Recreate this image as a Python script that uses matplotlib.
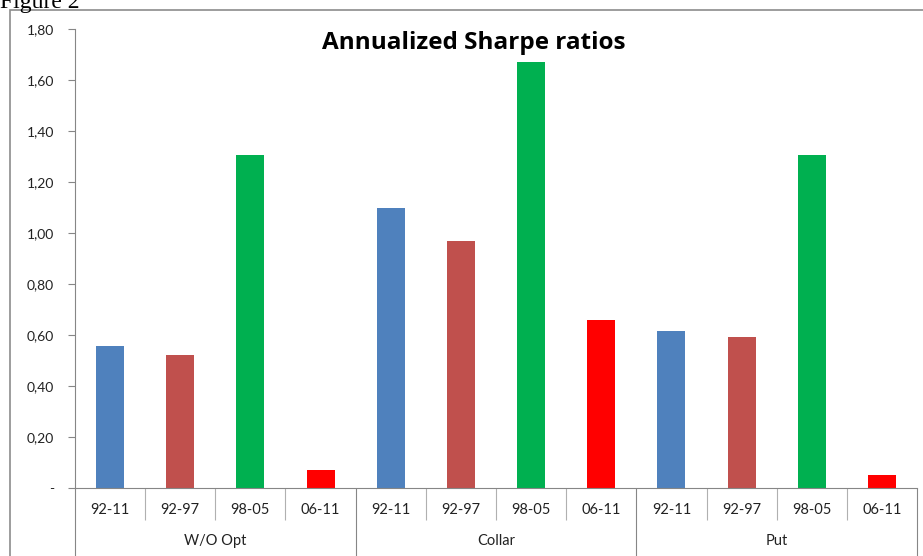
import matplotlib.pyplot as plt
import numpy as np
from matplotlib.patches import Rectangle
from matplotlib.ticker import FixedLocator, FuncFormatter

groups = ['W/O Opt', 'Collar', 'Put']
periods = ['92-11', '92-97', '98-05', '06-11']
period_colors = ['#4F81BD', '#C0504D', '#00B050', '#FF0000']
wo_opt = [0.557, 0.520, 1.305, 0.070]
collar = [1.100, 0.968, 1.670, 0.659]
put = [0.615, 0.592, 1.305, 0.052]
y_ticks = [0, 0.2, 0.4, 0.6, 0.8, 1.0, 1.2, 1.4, 1.6, 1.8]

W, H = 923, 556
AXIS_GRAY = '#868686'
plt.rcParams['font.family'] = ['Lato', 'DejaVu Sans']


def fmt_y(v, pos):
    if abs(v) < 1e-9:
        return '-'
    return f'{v:.2f}'.replace('.', ',')


def main():
    fig = plt.figure(figsize=(W / 100, H / 100), dpi=100)
    fig.patch.set_facecolor('white')

    # outer chart frame
    fig.patches.append(Rectangle((10 / W, -0.1), 1.2, 1 - 10 / H + 0.1,
                                 transform=fig.transFigure, fill=False,
                                 edgecolor='#8c8c8c', linewidth=1.2))
    fig.text(0.0, 1 - 8 / H, 'Figure 2', family='Liberation Serif',
             fontsize=17, ha='left', va='baseline')

    ax = fig.add_axes([75 / W, 68 / H, (917 - 75) / W, (488 - 29) / H])
    series = [wo_opt, collar, put]
    n = len(periods)
    for g, vals in enumerate(series):
        for i, v in enumerate(vals):
            ax.bar(g * n + i, v, width=0.4, color=period_colors[i], zorder=2)

    n_cat = len(groups) * n
    ax.set_xlim(-0.5, n_cat - 0.5)
    ax.set_ylim(0, 1.8)
    ax.set_yticks(y_ticks)
    ax.yaxis.set_major_formatter(FuncFormatter(fmt_y))
    ax.tick_params(axis='y', direction='out', length=5, width=0.8,
                   color=AXIS_GRAY, pad=10, labelsize=10, labelcolor='#222222')

    # category separators (minor) and group separators (major)
    ax.xaxis.set_major_locator(FixedLocator(np.arange(0, n_cat + 1, n) - 0.5))
    ax.xaxis.set_minor_locator(FixedLocator(np.arange(0, n_cat + 1) - 0.5))
    ax.tick_params(axis='x', which='major', direction='out', length=60,
                   width=0.8, color=AXIS_GRAY, labelbottom=False)
    ax.tick_params(axis='x', which='minor', direction='out', length=23,
                   width=0.8, color='#b0b0b0', labelbottom=False)

    for sp in ['top', 'right']:
        ax.spines[sp].set_visible(False)
    for sp in ['left', 'bottom']:
        ax.spines[sp].set_color(AXIS_GRAY)
        ax.spines[sp].set_linewidth(0.8)

    trans = ax.get_xaxis_transform()
    for g, name in enumerate(groups):
        for i, p in enumerate(periods):
            ax.text(g * n + i, -22 / 459, p, transform=trans, ha='center',
                    va='center', fontsize=10.5, color='#222222')
        ax.text(g * n + (n - 1) / 2, -53 / 459, name, transform=trans,
                ha='center', va='center', fontsize=10.5, color='#222222')

    fig.text(474 / W, 1 - 43 / H, 'Annualized Sharpe ratios',
             family=['Open Sans', 'DejaVu Sans'], fontsize=17.5,
             fontweight='bold', ha='center', va='center')

    fig.savefig('out.png', dpi=100)
    plt.close(fig)


main()
